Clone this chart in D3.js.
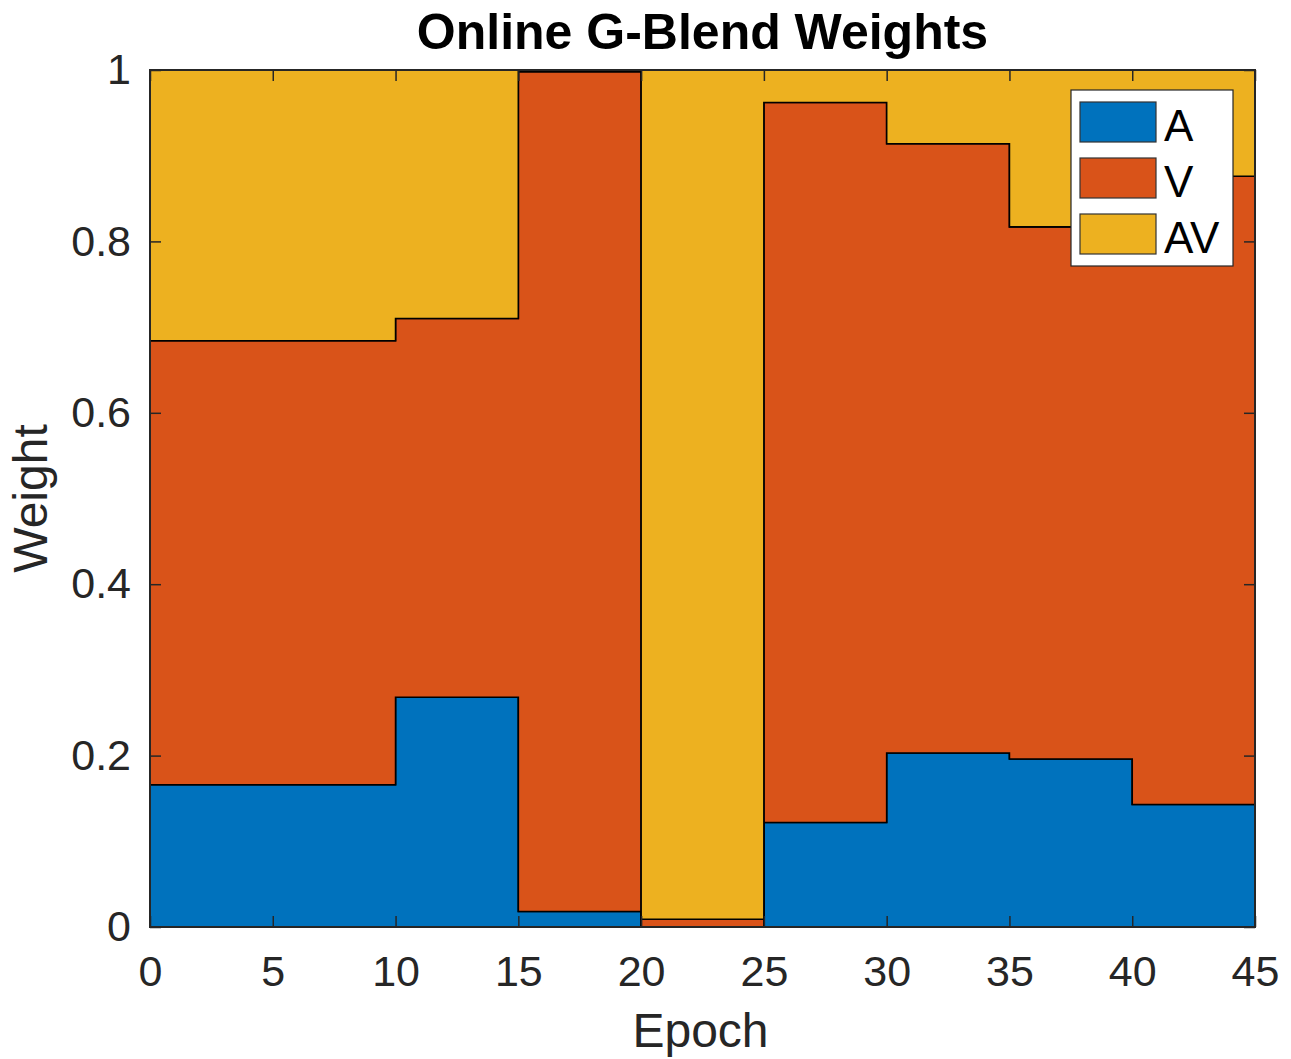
<!DOCTYPE html>
<html>
<head>
<meta charset="utf-8">
<script src="https://cdn.jsdelivr.net/npm/d3@7"></script>
<style>
  html, body { margin: 0; padding: 0; background: #fff; }
  svg { display: block; font-family: "Liberation Sans", Arial, Helvetica, sans-serif; }
</style>
</head>
<body>
<svg id="chart" width="1291" height="1059"></svg>
<script>
// Data: weights per epoch (piecewise constant, step after each epoch point)
const epochs   = [0, 5, 10, 15, 20, 25, 30, 35, 40, 45];
const weightA  = [0.166, 0.166, 0.268, 0.018, 0.000, 0.122, 0.203, 0.196, 0.143, 0.143];
const weightV  = [0.518, 0.518, 0.442, 0.980, 0.009, 0.840, 0.711, 0.621, 0.733, 0.733];
const weightAV = [0.316, 0.316, 0.290, 0.002, 0.991, 0.038, 0.086, 0.183, 0.124, 0.124];
const seriesNames = ["A", "V", "AV"];
const seriesColors = ["#0072BD", "#D95319", "#EDB120"];
const xTicks = [0, 5, 10, 15, 20, 25, 30, 35, 40, 45];
const yTicks = [0, 0.2, 0.4, 0.6, 0.8, 1];
const yTickLabels = ["0", "0.2", "0.4", "0.6", "0.8", "1"];

const svg = d3.select("#chart");
const m = { left: 150, right: 1255, top: 70, bottom: 927 };
const x = d3.scaleLinear().domain([0, 45]).range([m.left, m.right]);
const y = d3.scaleLinear().domain([0, 1]).range([m.bottom, m.top]);

const rows = epochs.map((e, i) => ({ epoch: e, A: weightA[i], V: weightV[i], AV: weightAV[i] }));
const stack = d3.stack().keys(seriesNames);
const layers = stack(rows);

const area = d3.area()
  .curve(d3.curveStepAfter)
  .x(d => x(d.data.epoch))
  .y0(d => y(d[0]))
  .y1(d => y(d[1]));

const g = svg.append("g");
g.selectAll("path.layer")
  .data(layers)
  .join("path")
  .attr("class", "layer")
  .attr("d", area)
  .attr("fill", (d, i) => seriesColors[i])
  .attr("stroke", "#000")
  .attr("stroke-width", 1.6)
  .attr("stroke-linejoin", "miter");

// Axes box
const axisColor = "#262626";
const tickLen = 11;
const frame = svg.append("g");
frame.append("rect")
  .attr("x", m.left).attr("y", m.top)
  .attr("width", m.right - m.left).attr("height", m.bottom - m.top)
  .attr("fill", "none").attr("stroke", axisColor).attr("stroke-width", 2);

const xAxisB = d3.axisBottom(x).tickValues(xTicks).tickSizeInner(-tickLen).tickSizeOuter(0).tickPadding(28).tickFormat(d3.format("d"));
const xAxisT = d3.axisTop(x).tickValues(xTicks).tickSizeInner(-tickLen).tickSizeOuter(0).tickFormat("");
const yAxisL = d3.axisLeft(y).tickValues(yTicks).tickSizeInner(-tickLen).tickSizeOuter(0).tickPadding(19).tickFormat((d, i) => yTickLabels[i]);
const yAxisR = d3.axisRight(y).tickValues(yTicks).tickSizeInner(-tickLen).tickSizeOuter(0).tickFormat("");

function styleAxis(sel) {
  sel.select(".domain").remove();
  sel.selectAll(".tick line").attr("stroke", axisColor).attr("stroke-width", 1.5);
  sel.selectAll(".tick text").attr("fill", axisColor).attr("font-size", 43).attr("font-family", "Liberation Sans, Arial, sans-serif");
}
svg.append("g").attr("transform", `translate(0,${m.bottom})`).call(xAxisB).call(styleAxis);
svg.append("g").attr("transform", `translate(0,${m.top})`).call(xAxisT).call(styleAxis);
svg.append("g").attr("transform", `translate(${m.left},0)`).call(yAxisL).call(styleAxis);
svg.append("g").attr("transform", `translate(${m.right},0)`).call(yAxisR).call(styleAxis);

// Title and labels
svg.append("text")
  .attr("x", (m.left + m.right) / 2).attr("y", 49)
  .attr("text-anchor", "middle")
  .attr("font-size", 50).attr("font-weight", "bold").attr("fill", "#000")
  .text("Online G-Blend Weights");

svg.append("text")
  .attr("x", (m.left + m.right) / 2 - 2).attr("y", 1047)
  .attr("text-anchor", "middle")
  .attr("font-size", 48).attr("fill", axisColor)
  .text("Epoch");

svg.append("text")
  .attr("transform", `translate(47,${(m.top + m.bottom) / 2}) rotate(-90)`)
  .attr("text-anchor", "middle")
  .attr("font-size", 48).attr("fill", axisColor)
  .text("Weight");

// Legend
const leg = svg.append("g");
leg.append("rect")
  .attr("x", 1071).attr("y", 90).attr("width", 162).attr("height", 176)
  .attr("fill", "#fff").attr("stroke", axisColor).attr("stroke-width", 1.2);
const legRows = seriesNames.map((n, i) => ({ name: n, color: seriesColors[i], y: 102 + i * 56 }));
leg.selectAll("rect.sw").data(legRows).join("rect")
  .attr("class", "sw")
  .attr("x", 1080).attr("y", d => d.y).attr("width", 76).attr("height", 40)
  .attr("fill", d => d.color).attr("stroke", "#333").attr("stroke-width", 1.2);
leg.selectAll("text.lt").data(legRows).join("text")
  .attr("class", "lt")
  .attr("x", 1164).attr("y", d => d.y + 39)
  .attr("font-size", 44).attr("fill", "#000")
  .text(d => d.name);
</script>
</body>
</html>
